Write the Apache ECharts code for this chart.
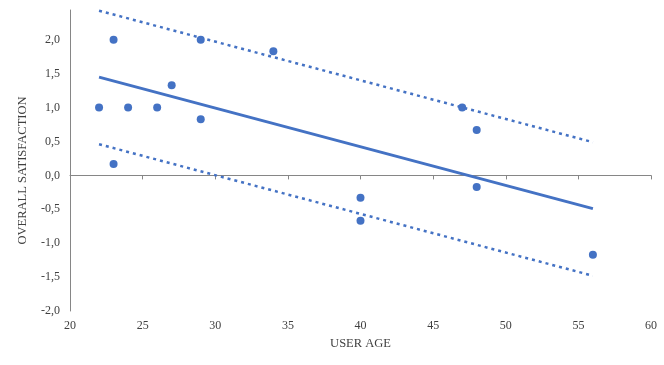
<!DOCTYPE html>
<html>
<head>
<meta charset="utf-8">
<script src="https://cdn.jsdelivr.net/npm/echarts@6/dist/echarts.min.js"></script>
<style>html,body{margin:0;padding:0;background:#fff}#c{width:664px;height:365px}</style>
</head>
<body>
<div id="c"></div>
<script>
const ages = [22, 23, 23, 24, 26, 27, 29, 29, 34, 40, 40, 47, 48, 48, 56];
const satisfaction = [1.0, 2.0, 0.17, 1.0, 1.0, 1.33, 0.83, 2.0, 1.83, -0.33, -0.67, 1.0, 0.67, -0.17, -1.17];
const trendX = [22, 56];
const trendY = [1.45, -0.49];
const upperY = [2.43, 0.49];
const lowerY = [0.46, -1.48];
const xTicks = [20, 25, 30, 35, 40, 45, 50, 55, 60];
const yTicks = [-2.0, -1.5, -1.0, -0.5, 0.0, 0.5, 1.0, 1.5, 2.0];

const blue = '#4472C4';
const axisGray = '#868686';
const font = 'Liberation Serif';
const textColor = '#404040';

const pts = ages.map((a, i) => [a, satisfaction[i]]);
const pair = (ys) => trendX.map((x, i) => [x, ys[i]]);

const chart = echarts.init(document.getElementById('c'));
chart.setOption({
  animation: false,
  grid: { left: 70, right: 13, top: 10, bottom: 54 },
  xAxis: [
    {
      type: 'value', min: xTicks[0], max: xTicks[xTicks.length - 1], interval: 5,
      position: 'bottom',
      axisLine: { show: false, onZero: false },
      axisTick: { show: false },
      splitLine: { show: false },
      axisLabel: { fontFamily: font, fontSize: 12, color: textColor, margin: 9 },
      name: 'USER AGE', nameLocation: 'middle', nameGap: 26,
      nameTextStyle: { fontFamily: font, fontSize: 12.5, color: textColor }
    },
    {
      type: 'value', min: xTicks[0], max: xTicks[xTicks.length - 1], interval: 5,
      position: 'bottom',
      axisLine: { show: true, onZero: true, lineStyle: { color: axisGray, width: 1 } },
      axisTick: { show: true, length: 4, lineStyle: { color: axisGray, width: 1 } },
      axisLabel: { show: false },
      splitLine: { show: false }
    }
  ],
  yAxis: {
    type: 'value', min: yTicks[0], max: 2.44, interval: 0.5,
    axisLine: { show: true, onZero: false, lineStyle: { color: axisGray, width: 1 } },
    axisTick: { show: false },
    splitLine: { show: false },
    axisLabel: {
      fontFamily: font, fontSize: 12, color: textColor, margin: 10,
      formatter: function (v) {
        const hit = yTicks.find(t => Math.abs(t - v) < 1e-6);
        if (hit === undefined) return '';
        return (Math.abs(hit) < 1e-9 ? 0 : hit).toFixed(1).replace('.', ',');
      }
    },
    name: 'OVERALL SATISFACTION', nameLocation: 'middle', nameGap: 41,
    nameTextStyle: { fontFamily: font, fontSize: 12.5, color: textColor, padding: [0, 20, 0, 0] }
  },
  series: [
    {
      type: 'line', data: pair(upperY), xAxisIndex: 0, symbol: 'none',
      lineStyle: { color: blue, width: 2.5, type: [3, 4] }
    },
    {
      type: 'line', data: pair(lowerY), xAxisIndex: 0, symbol: 'none',
      lineStyle: { color: blue, width: 2.5, type: [3, 4] }
    },
    {
      type: 'line', data: pair(trendY), xAxisIndex: 0, symbol: 'none',
      lineStyle: { color: blue, width: 3 }
    },
    {
      type: 'scatter', data: pts, xAxisIndex: 0, symbolSize: 8,
      itemStyle: { color: blue, opacity: 1 }
    }
  ]
});
</script>
</body>
</html>
